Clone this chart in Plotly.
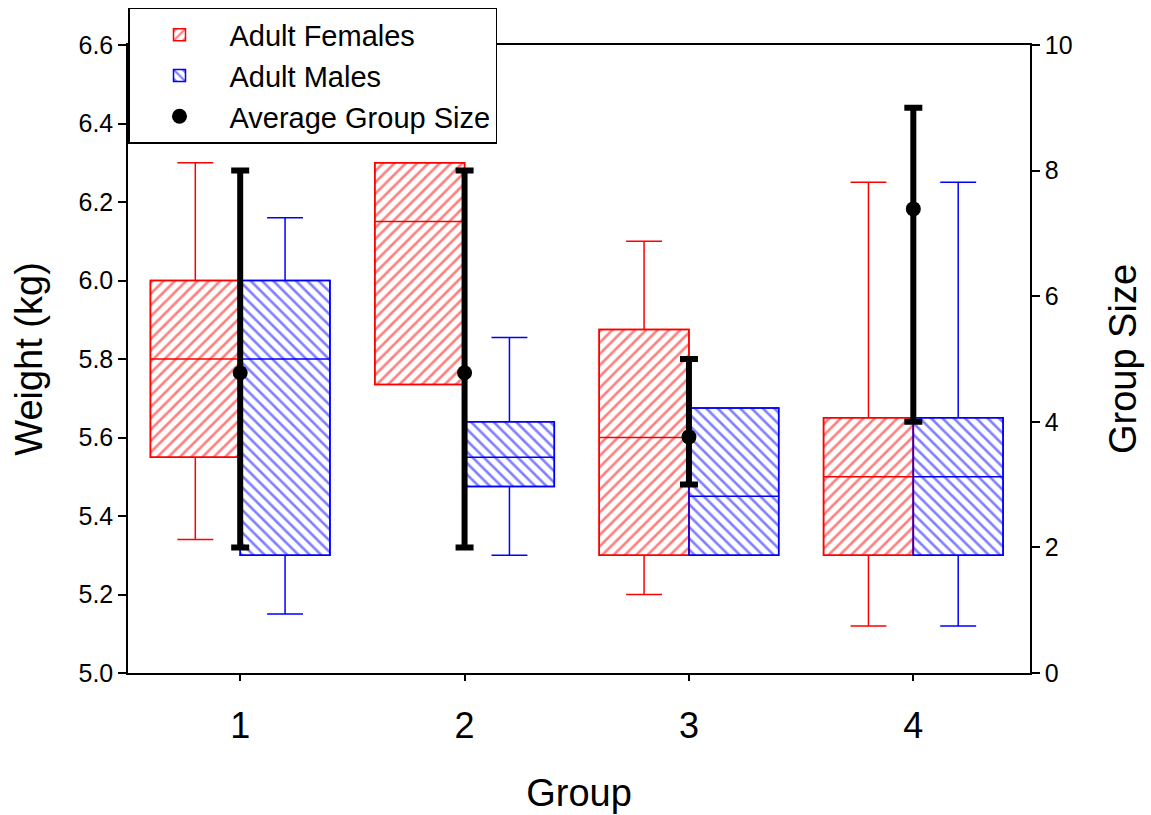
import plotly.graph_objects as go

groups = [1, 2, 3, 4]
group_labels = ["1", "2", "3", "4"]

fem_q1 = [5.55, 5.735, 5.30, 5.30]
fem_med = [5.80, 6.15, 5.60, 5.50]
fem_q3 = [6.00, 6.30, 5.875, 5.65]
fem_low = [5.34, 5.735, 5.20, 5.12]
fem_high = [6.30, 6.30, 6.10, 6.25]

male_q1 = [5.30, 5.475, 5.30, 5.30]
male_med = [5.80, 5.55, 5.45, 5.50]
male_q3 = [6.00, 5.64, 5.675, 5.65]
male_low = [5.15, 5.30, 5.30, 5.12]
male_high = [6.16, 5.855, 5.675, 6.25]

size_mean = [4.78, 4.78, 3.76, 7.39]
size_max = [8.0, 8.0, 5.0, 9.0]
size_min = [2.0, 2.0, 3.0, 4.0]

RED = "#ff0000"
BLUE = "#0000ff"
FONT = "Liberation Sans, Arial, sans-serif"

fig = go.Figure()

# Hatched box bodies (bars from q1 to q3)
fig.add_trace(go.Bar(
    x=groups, y=[b - a for a, b in zip(fem_q1, fem_q3)], base=fem_q1,
    name="Adult Females",
    marker=dict(color="white", line=dict(color=RED, width=1.5),
                pattern=dict(shape="/", fgcolor=RED, bgcolor="white", size=8, solidity=0.33)),
    legendgroup="f", hoverinfo="skip",
))
fig.add_trace(go.Bar(
    x=groups, y=[b - a for a, b in zip(male_q1, male_q3)], base=male_q1,
    name="Adult Males",
    marker=dict(color="white", line=dict(color=BLUE, width=1.5),
                pattern=dict(shape="\\", fgcolor=BLUE, bgcolor="white", size=8, solidity=0.33)),
    legendgroup="m", hoverinfo="skip",
))

# Box outlines, medians and whiskers
fig.add_trace(go.Box(
    x=groups, q1=fem_q1, median=fem_med, q3=fem_q3,
    lowerfence=fem_low, upperfence=fem_high,
    line=dict(color=RED, width=1.5), fillcolor="rgba(0,0,0,0)",
    whiskerwidth=0.4, boxpoints=False, showlegend=False, name="F",
))
fig.add_trace(go.Box(
    x=groups, q1=male_q1, median=male_med, q3=male_q3,
    lowerfence=male_low, upperfence=male_high,
    line=dict(color=BLUE, width=1.5), fillcolor="rgba(0,0,0,0)",
    whiskerwidth=0.4, boxpoints=False, showlegend=False, name="M",
))

# Average group size on secondary axis
fig.add_trace(go.Scatter(
    x=groups, y=size_mean, yaxis="y2", mode="markers",
    name="Average Group Size",
    marker=dict(color="black", size=15),
    error_y=dict(type="data", symmetric=False,
                 array=[hi - m for hi, m in zip(size_max, size_mean)],
                 arrayminus=[m - lo for lo, m in zip(size_min, size_mean)],
                 color="black", thickness=6, width=9),
    legendgroup="s",
))

fig.update_layout(
    width=1151, height=815,
    margin=dict(l=128, r=121, t=45, b=142, autoexpand=False),
    paper_bgcolor="white", plot_bgcolor="white",
    font=dict(family=FONT, color="black"),
    barmode="group", bargap=0.2, bargroupgap=0,
    boxmode="group", boxgap=0.2, boxgroupgap=0,
    xaxis=dict(
        range=[0.5, 4.52], tickmode="array", tickvals=groups, ticktext=group_labels,
        ticks="outside", ticklen=6, tickwidth=1.5, tickcolor="black",
        showline=True, linecolor="black", linewidth=1.5, mirror=True,
        showgrid=False, zeroline=False,
        tickfont=dict(size=36), ticklabelstandoff=14,
        title=dict(text="Group", font=dict(size=38), standoff=34),
    ),
    yaxis=dict(
        range=[5.0, 6.6], dtick=0.2, tickformat=".1f",
        ticks="outside", ticklen=8, tickwidth=1.5, tickcolor="black",
        showline=True, linecolor="black", linewidth=1.5,
        showgrid=False, zeroline=False,
        tickfont=dict(size=25),
        title=dict(text="Weight (kg)", font=dict(size=38), standoff=24),
    ),
    yaxis2=dict(
        overlaying="y", side="right", range=[0, 10], dtick=2,
        ticks="outside", ticklen=8, tickwidth=1.5, tickcolor="black",
        showline=True, linecolor="black", linewidth=1.5,
        showgrid=False, zeroline=False,
        tickfont=dict(size=25),
        title=dict(text="Group Size", font=dict(size=38), standoff=38),
    ),
    legend=dict(
        x=0, y=1.059, xanchor="left", yanchor="top",
        bgcolor="white", bordercolor="black", borderwidth=1.5,
        font=dict(size=29), tracegroupgap=0, itemwidth=90,
    ),
    showlegend=True,
)

fig.write_html("out.html")
